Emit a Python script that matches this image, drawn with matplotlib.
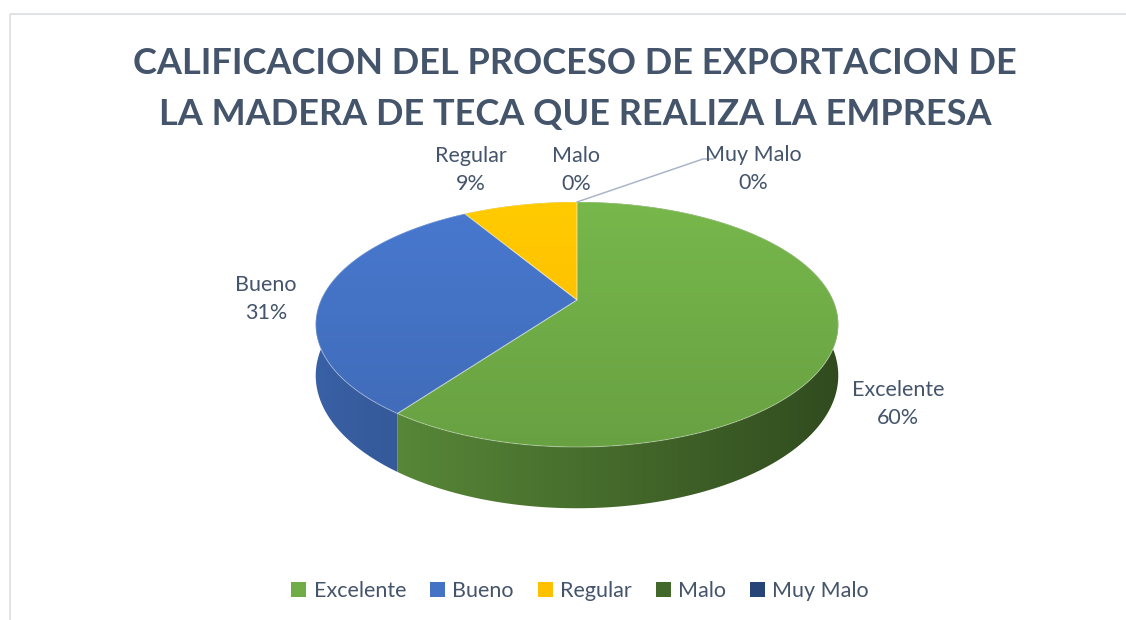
import numpy as np
import matplotlib
matplotlib.use("Agg")
import matplotlib.pyplot as plt
from matplotlib.patches import Polygon, Patch, Rectangle
from matplotlib.colors import to_rgb

categories = ["Excelente", "Bueno", "Regular", "Malo", "Muy Malo"]
counts = [21, 11, 3, 0, 0]
colors = ["#70AD47", "#4472C4", "#FFC000", "#43682B", "#264478"]
title = "CALIFICACION DEL PROCESO DE EXPORTACION DE\nLA MADERA DE TECA QUE REALIZA LA EMPRESA"

TEXT = "#44546A"
FONT = "Lato"

# pie geometry (pixels), Excel-like perspective
CX, CY = 577, 300
RX, RY = 256, 117.6
DEPTH = 49
PERSP = 0.2

# where the data labels sit (pixels)
label_pos = {"Excelente": (898, 404), "Bueno": (266, 299), "Regular": (471, 170),
             "Malo": (576, 170), "Muy Malo": (753, 169)}


def project(phi, drop=0.0):
    # phi runs clockwise from the far point of the pie
    u = np.sin(phi)
    v = -np.cos(phi)
    s = 1.0 / (1.0 - PERSP * v)
    return CX + RX * u * s, CY + RY * v * s + drop * s


fig = plt.figure(figsize=(11.26, 6.2), dpi=100)
ax = fig.add_axes([0, 0, 1, 1])
ax.set_xlim(0, 1126)
ax.set_ylim(620, 0)
ax.axis("off")

ax.add_patch(Rectangle((9.5, 13.5), 1300, 800, fill=False, ec="#d9dde3", lw=1.2))

total = sum(counts)
fracs = np.array(counts) / total
edges = np.concatenate([[0], np.cumsum(fracs)]) * 2 * np.pi

x_lo, x_hi = CX - RX * 1.1, CX + RX * 1.1
y_lo, y_hi = CY - RY * 1.1, CY + RY * 1.4 + DEPTH * 1.3

# side walls: one band per slice, shaded darker towards the right
for i, c in enumerate(colors):
    a0, a1 = edges[i], edges[i + 1]
    if a1 - a0 <= 0:
        continue
    ph = np.linspace(a0, a1, max(int((a1 - a0) / 0.01), 2))
    xt, yt = project(ph)
    xb, yb = project(ph, DEPTH)
    pts = np.column_stack([np.r_[xt, xb[::-1]], np.r_[yt, yb[::-1]]])
    band = Polygon(pts, closed=True, fc="none", ec="none", zorder=1)
    ax.add_patch(band)
    base = np.array(to_rgb(c))
    u = np.linspace(-1.1, 1.1, 300)
    f = 0.64 - 0.2 * u
    g = f[None, :, None] * base[None, None, :]
    im = ax.imshow(np.clip(g, 0, 1), extent=(x_lo, x_hi, y_hi, y_lo), origin="upper",
                   aspect="auto", interpolation="bilinear", zorder=1)
    im.set_clip_path(band)

# top faces with a soft vertical gradient
for i, c in enumerate(colors):
    a0, a1 = edges[i], edges[i + 1]
    if a1 - a0 <= 0:
        continue
    ph = np.linspace(a0, a1, max(int((a1 - a0) / 0.01), 2))
    xs, ys = project(ph)
    pts = np.column_stack([np.r_[CX, xs], np.r_[CY, ys]])
    poly = Polygon(pts, closed=True, fc="none", ec=(1, 1, 1, 0.3), lw=0.8, zorder=3)
    ax.add_patch(poly)
    base = np.array(to_rgb(c))
    g = np.linspace(1.07, 0.93, 200)[:, None, None] * base[None, None, :]
    im = ax.imshow(np.clip(g, 0, 1), extent=(x_lo, x_hi, CY + RY * 1.25, CY - RY),
                   origin="upper", aspect="auto", interpolation="bilinear", zorder=2)
    im.set_clip_path(poly)

ax.set_xlim(0, 1126)
ax.set_ylim(620, 0)

# data labels
for name, n in zip(categories, counts):
    x, y = label_pos[name]
    ax.text(x, y, f"{name}\n{round(100 * n / total)}%", ha="center", va="center",
            fontsize=15.5, color=TEXT, family=FONT, linespacing=1.55, zorder=5)

# leader line for the last label
lx, ly = project(edges[-1])
ax.plot([lx, 703, 713], [ly, 159, 159], color="#a9b6c8", lw=1.1, zorder=4)

ax.text(575, 89, title, ha="center", va="center", fontsize=26, fontweight="bold",
        color=TEXT, family=FONT, linespacing=1.66)

handles = [Patch(facecolor=c, edgecolor="none") for c in colors]
ax.legend(handles, categories, ncol=5, loc="center", bbox_to_anchor=(580 / 1126, 1 - 591 / 620),
          frameon=False, labelcolor=TEXT, prop={"family": FONT, "size": 15.5},
          handlelength=0.7, handleheight=0.7, handletextpad=0.35, columnspacing=1.1)

fig.savefig("out.png", dpi=100, facecolor="white")
